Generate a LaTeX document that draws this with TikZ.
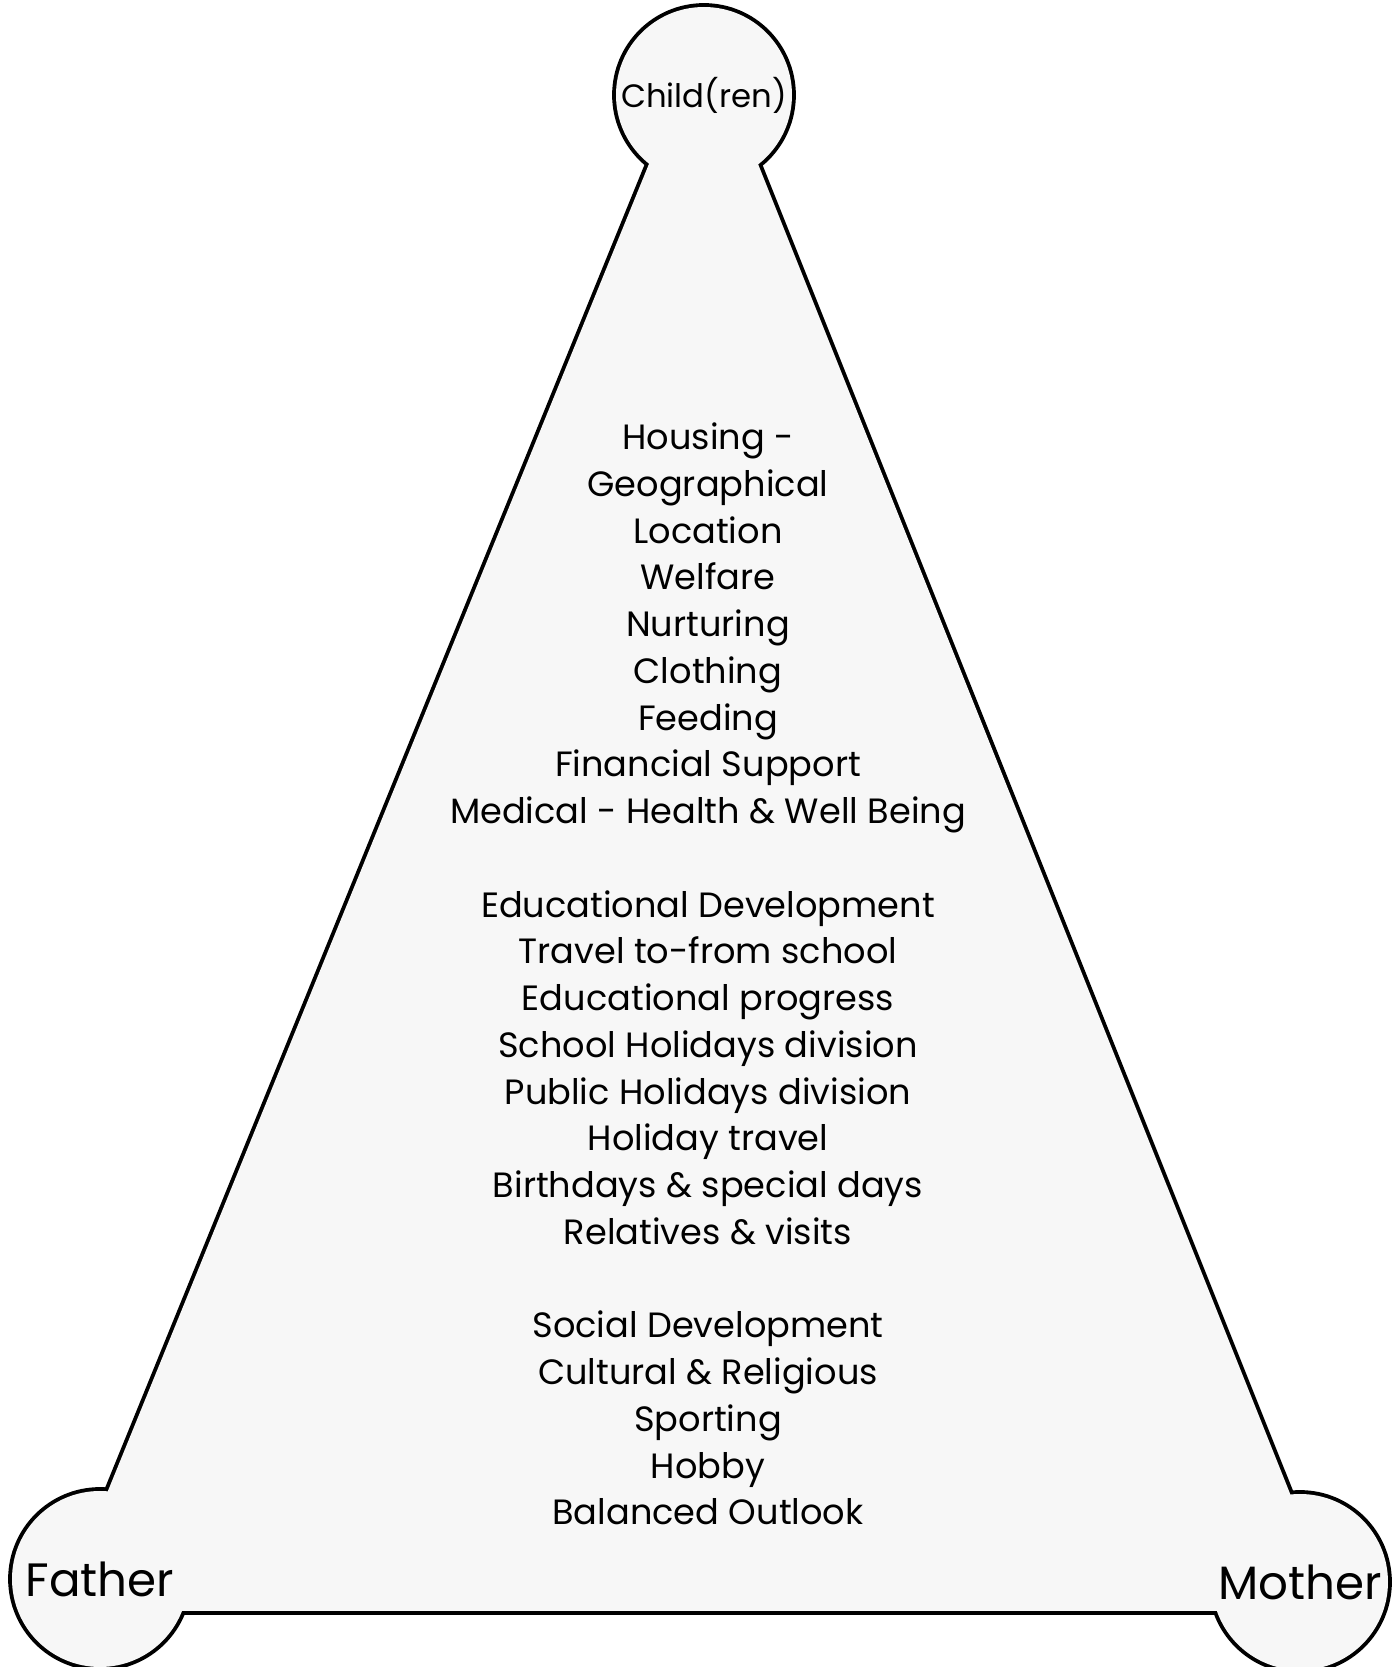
\documentclass[tikz,border=0pt]{standalone}
\usepackage{fontspec}
\setmainfont{Poppins}
\usetikzlibrary{calc,backgrounds}

\tikzset{
  kid/.style={circle, minimum size=1.76cm, inner sep=0pt, font=\fontsize{9.2}{11}\selectfont},
  parent/.style={circle, minimum size=1.76cm, inner sep=0pt, font=\fontsize{13.3}{16}\selectfont},
  duties/.style={align=center, inner sep=0pt, font=\fontsize{10}{13.3}\selectfont},
  rim/.style={line width=2.2pt},
}

\begin{document}
\begin{tikzpicture}
\useasboundingbox (0,0) rectangle (13.96,16.67);

% the three corners
\node[kid] (child) at (7.04,15.72) {Child(ren)};
\node[parent] (father) at (1.00,0.88) {Father};
\node[parent] (mother) at (13.00,0.85) {Mother};

% triangle, set a little outside the circle centres
\coordinate (apex) at ($(child)+(0,0.66)$);
\coordinate (lcorner) at ($(father)+(-0.41,-0.32)$);
\coordinate (rcorner) at ($(mother)+(0.37,-0.29)$);

% outline of triangle and circles together: thick stroke, then fill over it
\begin{scope}[on background layer]
  \draw[rim] (apex) -- (lcorner) -- (rcorner) -- cycle;
  \draw[rim] (child) circle (0.88) (father) circle (0.88) (mother) circle (0.88);
  \fill[black!3] (apex) -- (lcorner) -- (rcorner) -- cycle;
  \fill[black!3] (child) circle (0.88) (father) circle (0.88) (mother) circle (0.88);
\end{scope}

% what the parents share
\node[duties] (list) at (7.08,6.93) {%
  Housing -\\
  Geographical\\
  Location\\
  Welfare\\
  Nurturing\\
  Clothing\\
  Feeding\\
  Financial Support\\
  Medical - Health \& Well Being\\[13.3pt]
  Educational Development\\
  Travel to-from school\\
  Educational progress\\
  School Holidays division\\
  Public Holidays division\\
  Holiday travel\\
  Birthdays \& special days\\
  Relatives \& visits\\[13.3pt]
  Social Development\\
  Cultural \& Religious\\
  Sporting\\
  Hobby\\
  Balanced Outlook};
\end{tikzpicture}
\end{document}
